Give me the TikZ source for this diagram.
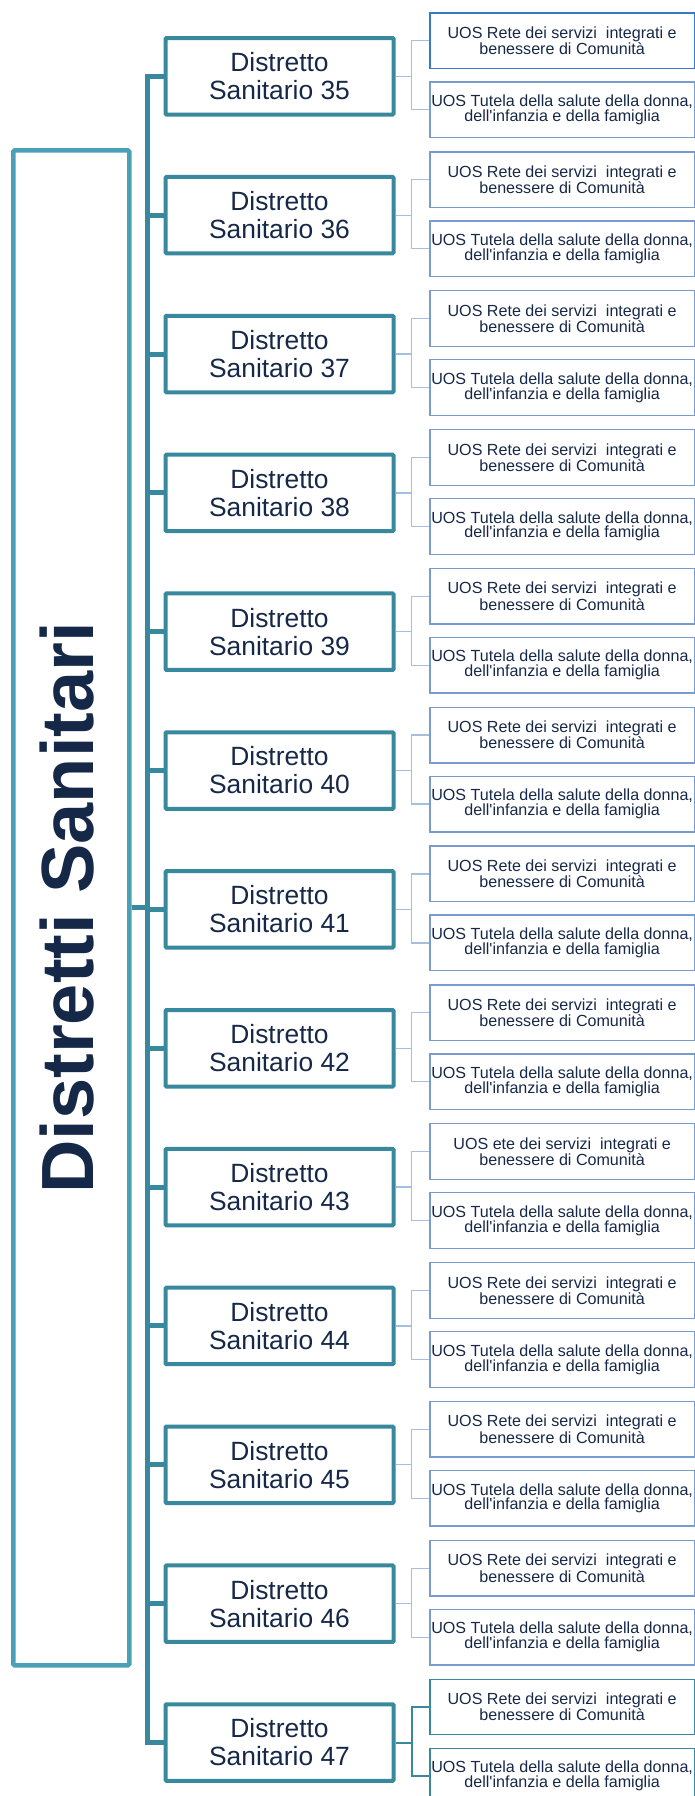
\documentclass[tikz,border=0pt]{standalone}
\usepackage{fontspec}
\setmainfont{Liberation Sans}
\usepackage{tikz}
\usetikzlibrary{calc}
\usetikzlibrary{positioning}
\definecolor{navyText}{RGB}{22,40,72}
\definecolor{tealDark}{RGB}{56,137,157}
\definecolor{tealLight}{RGB}{74,160,182}
\definecolor{uosBlue}{RGB}{122,155,205}
\definecolor{uosBright}{RGB}{52,122,200}
\definecolor{linkBlue}{RGB}{165,190,226}
\tikzstyle{rootnode} = [draw=tealLight, line width=4.5pt, rounded corners=1.5pt, minimum width=116pt, minimum height=1515pt, inner sep=0pt]
\tikzstyle{titlenode} = [rotate=90, inner sep=0pt, text=navyText, font=\fontsize{74}{74}\selectfont\bfseries]
\tikzstyle{distnode} = [draw=tealDark, line width=4pt, rounded corners=1pt, minimum width=228pt, minimum height=76.5pt, inner sep=0pt, align=center, text=navyText, font=\fontsize{26.4}{28}\selectfont]
\tikzstyle{uosnode} = [draw, line width=1.3pt, minimum width=264.3pt, minimum height=55.6pt, inner sep=0pt, align=center, text=navyText, font=\fontsize{16.1}{14.8}\selectfont]
\tikzstyle{trunk} = [draw=tealDark, line width=5pt]
\tikzstyle{twig} = [draw=linkBlue, line width=1.3pt]
\tikzstyle{twigsel} = [draw=tealDark, line width=2pt]

\begin{document}
\begin{tikzpicture}[x=1pt, y=-1pt]
    \useasboundingbox (0,0) rectangle (695,1796);
    \node[rootnode] (root) at (71.25,907.9) {};
    \node[titlenode] (title) at ($(root)+(-4,0)$) {Distretti Sanitari};
    % one district with its two UOS
    \foreach \n/\rw/\colA/\colB/\tw [count=\i from 0] in {35/Rete/uosBright/uosBlue/twig, 36/Rete/uosBlue/uosBlue/twig, 37/Rete/uosBlue/uosBlue/twig, 38/Rete/uosBlue/uosBlue/twig, 39/Rete/uosBlue/uosBlue/twig, 40/Rete/uosBlue/uosBlue/twig, 41/Rete/uosBlue/uosBlue/twig, 42/Rete/uosBlue/uosBlue/twig, 43/ete/uosBlue/uosBlue/twig, 44/Rete/uosBlue/uosBlue/twig, 45/Rete/uosBlue/uosBlue/twig, 46/Rete/uosBlue/uosBlue/twig, 47/Rete/tealDark/tealDark/twigsel} {
        \node[distnode] (dist_\n) at ($(root)+(208.25,{-831.6+138.85*\i})$) {Distretto\\Sanitario \n};
        \node[uosnode, draw=\colA] (rete_\n) at ($(dist_\n)+(282.65,-35.5)$) {UOS \rw{} dei servizi\ \ integrati e\\benessere di Comunità};
        \node[uosnode, draw=\colB] (tutela_\n) at ($(dist_\n)+(282.65,33.5)$) {UOS Tutela della salute della donna,\\dell\textquotesingle infanzia e della famiglia};
        \draw[trunk] (root.east) -- ++(16,0) |- (dist_\n.west);
        \draw[\tw] (dist_\n.east) -- ++(16.2,0) |- (rete_\n.west);
        \draw[\tw] (dist_\n.east) -- ++(16.2,0) |- (tutela_\n.west);
    }
\end{tikzpicture}
\end{document}
